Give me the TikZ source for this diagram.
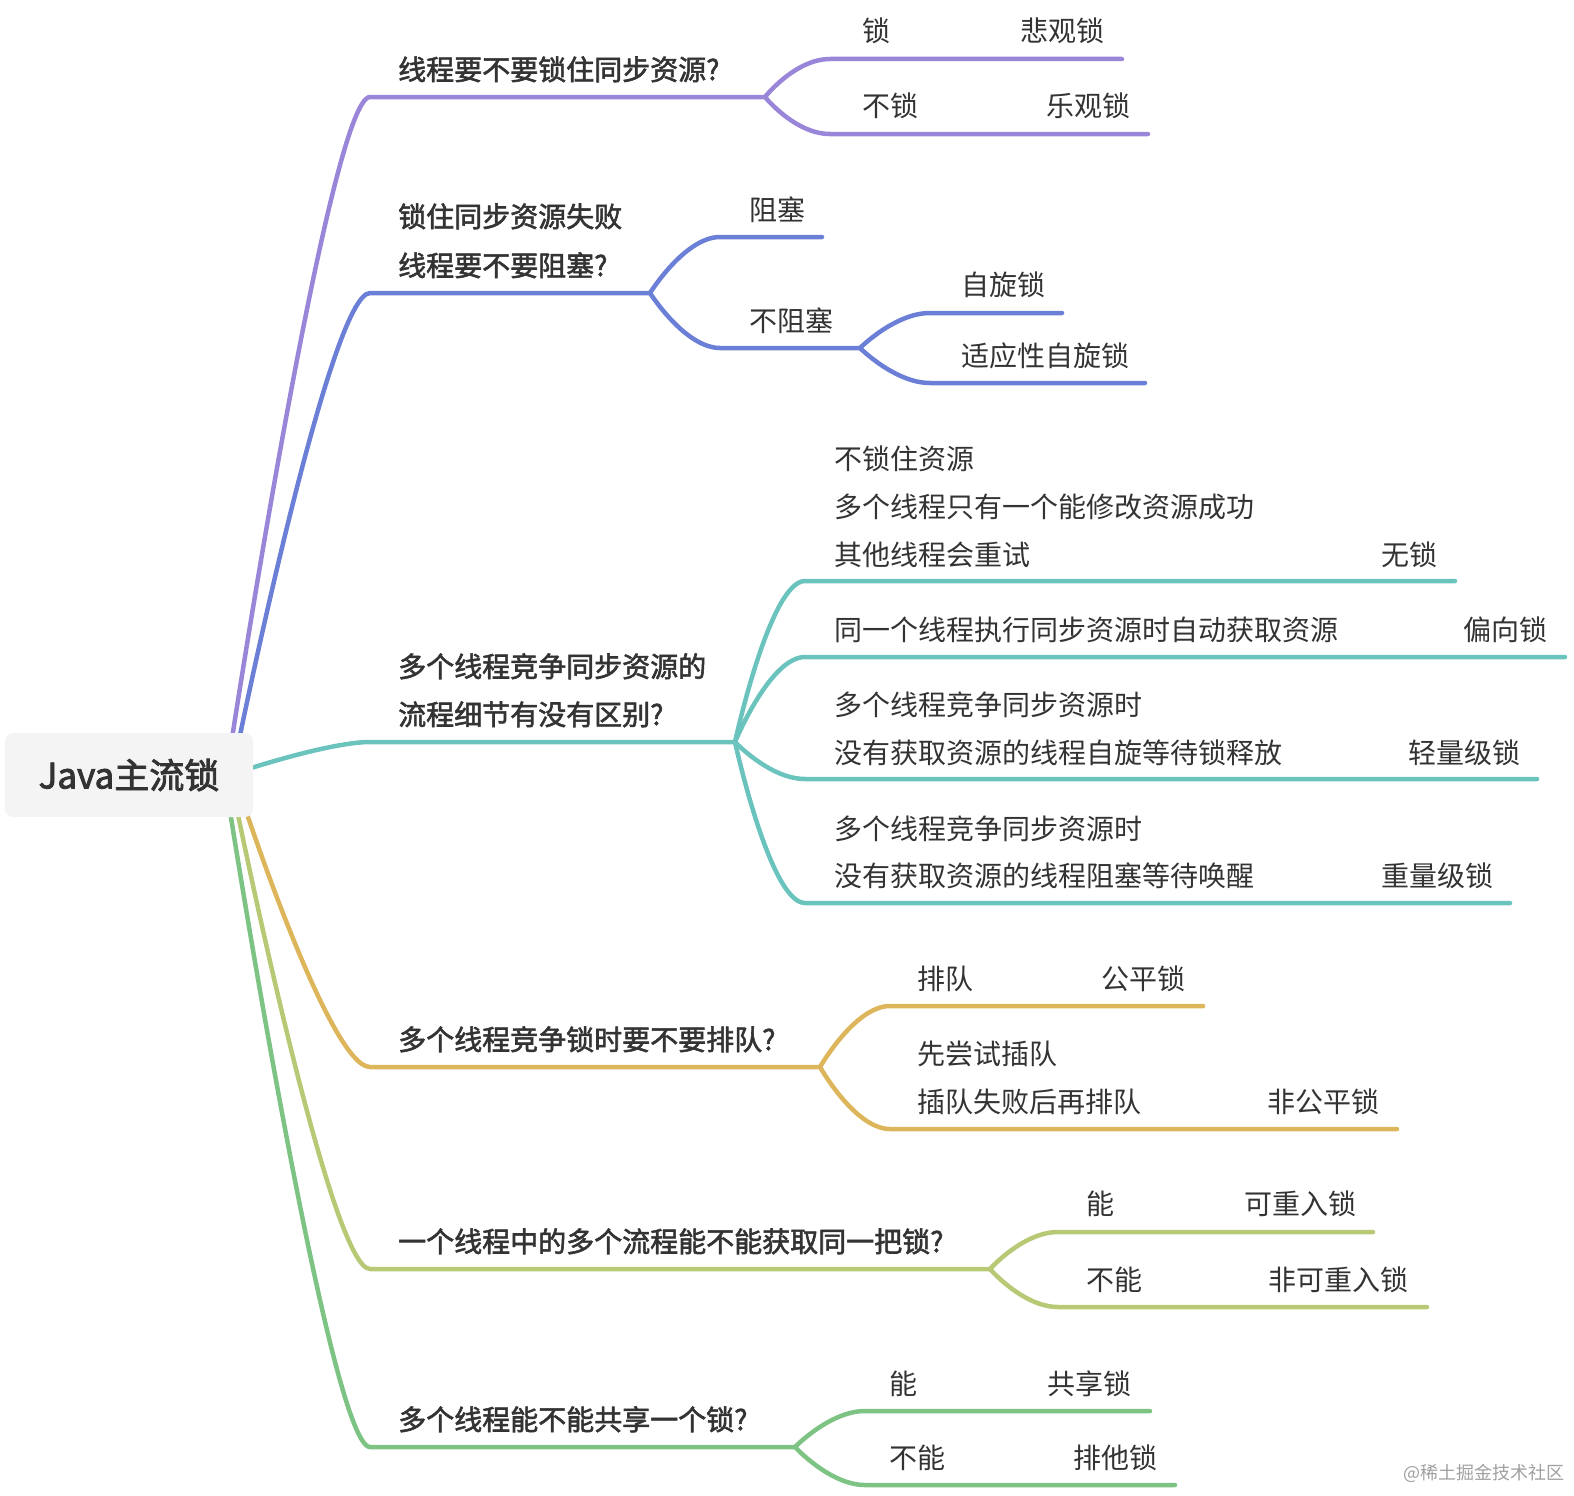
\documentclass[tikz,border=0pt]{standalone}
\usepackage{fontspec}
\setmainfont{Noto Sans CJK SC}
\newfontfamily\medfont{Noto Sans CJK SC}[FakeBold=2]
\newfontfamily\rootfont{Noto Sans CJK SC}[FakeBold=2.5]
\definecolor{cPur}{HTML}{9A86D9}
\definecolor{cBlu}{HTML}{6B7FD7}
\definecolor{cTea}{HTML}{6BC3BE}
\definecolor{cYel}{HTML}{DDB55A}
\definecolor{cLim}{HTML}{B8C975}
\definecolor{cGrn}{HTML}{7DC383}
\definecolor{txt}{HTML}{333333}
\definecolor{rootbg}{HTML}{F4F4F4}
\definecolor{wm}{HTML}{A0A0A0}
\tikzset{
  lbl/.style={anchor=base west, inner sep=0pt, text=txt, font=\fontsize{28}{28}\selectfont},
  lone/.style={anchor=base west, inner sep=0pt, text=txt, font=\medfont\fontsize{28}{28}\selectfont},
  conn/.style={line width=4.5pt, line cap=round, line join=round},
  rootbox/.style={fill=rootbg, rounded corners=8pt, minimum width=248pt, minimum height=84pt, inner sep=0pt, text=txt, font=\rootfont\fontsize{35}{35}\selectfont},
}
\begin{document}
\begin{tikzpicture}[x=1pt, y=-1pt]
\useasboundingbox (0,0) rectangle (1574,1496);
% ---------- coordinates ----------
% branch 1
\coordinate (r1) at (231,745); \coordinate (h1) at (370,97); \coordinate (f1) at (765,97);
\coordinate (a1s) at (830,59); \coordinate (a1e) at (1122,59);
\coordinate (b1s) at (830,134); \coordinate (b1e) at (1148,134);
% branch 2
\coordinate (r2) at (238,745); \coordinate (h2) at (370,293); \coordinate (f2) at (650,293);
\coordinate (a2s) at (720,237); \coordinate (a2e) at (822,237);
\coordinate (b2s) at (720,348); \coordinate (f2b) at (860,348);
\coordinate (c2s) at (930,313); \coordinate (c2e) at (1062,313);
\coordinate (d2s) at (930,383); \coordinate (d2e) at (1145,383);
% branch 3
\coordinate (r3) at (245,770); \coordinate (h3) at (370,742); \coordinate (f3) at (735,742);
\coordinate (a3s) at (805,581); \coordinate (a3e) at (1455,581);
\coordinate (b3s) at (805,657); \coordinate (b3e) at (1565,657);
\coordinate (c3s) at (805,779); \coordinate (c3e) at (1537,779);
\coordinate (d3s) at (805,903); \coordinate (d3e) at (1510,903);
% branch 4
\coordinate (r4) at (244,805); \coordinate (h4) at (370,1067); \coordinate (f4) at (820,1067);
\coordinate (a4s) at (890,1006); \coordinate (a4e) at (1203,1006);
\coordinate (b4s) at (890,1129); \coordinate (b4e) at (1397,1129);
% branch 5
\coordinate (r5) at (236,805); \coordinate (h5) at (370,1269); \coordinate (f5) at (990,1269);
\coordinate (a5s) at (1058,1232); \coordinate (a5e) at (1373,1232);
\coordinate (b5s) at (1058,1307); \coordinate (b5e) at (1427,1307);
% branch 6
\coordinate (r6) at (229,805); \coordinate (h6) at (370,1447); \coordinate (f6) at (795,1447);
\coordinate (a6s) at (865,1411); \coordinate (a6e) at (1150,1411);
\coordinate (b6s) at (865,1485); \coordinate (b6e) at (1175,1485);

% ---------- connectors ----------
\draw[conn,cPur] (r1) .. controls (r1) and +(-40,0) .. (h1) -- (f1);
\draw[conn,cPur] (f1) .. controls (f1) and +(-35,0) .. (a1s) -- (a1e);
\draw[conn,cPur] (f1) .. controls (f1) and +(-35,0) .. (b1s) -- (b1e);

\draw[conn,cBlu] (r2) .. controls (r2) and +(-40,0) .. (h2) -- (f2);
\draw[conn,cBlu] (f2) .. controls (f2) and +(-35,0) .. (a2s) -- (a2e);
\draw[conn,cBlu] (f2) .. controls (f2) and +(-35,0) .. (b2s) -- (f2b);
\draw[conn,cBlu] (f2b) .. controls (f2b) and +(-35,0) .. (c2s) -- (c2e);
\draw[conn,cBlu] (f2b) .. controls (f2b) and +(-35,0) .. (d2s) -- (d2e);

\draw[conn,cTea] (r3) .. controls (r3) and +(-40,0) .. (h3) -- (f3);
\draw[conn,cTea] (f3) .. controls (f3) and +(-35,0) .. (a3s) -- (a3e);
\draw[conn,cTea] (f3) .. controls (f3) and +(-35,0) .. (b3s) -- (b3e);
\draw[conn,cTea] (f3) .. controls (f3) and +(-35,0) .. (c3s) -- (c3e);
\draw[conn,cTea] (f3) .. controls (f3) and +(-35,0) .. (d3s) -- (d3e);

\draw[conn,cYel] (r4) .. controls (r4) and +(-40,0) .. (h4) -- (f4);
\draw[conn,cYel] (f4) .. controls (f4) and +(-35,0) .. (a4s) -- (a4e);
\draw[conn,cYel] (f4) .. controls (f4) and +(-35,0) .. (b4s) -- (b4e);

\draw[conn,cLim] (r5) .. controls (r5) and +(-40,0) .. (h5) -- (f5);
\draw[conn,cLim] (f5) .. controls (f5) and +(-35,0) .. (a5s) -- (a5e);
\draw[conn,cLim] (f5) .. controls (f5) and +(-35,0) .. (b5s) -- (b5e);

\draw[conn,cGrn] (r6) .. controls (r6) and +(-40,0) .. (h6) -- (f6);
\draw[conn,cGrn] (f6) .. controls (f6) and +(-35,0) .. (a6s) -- (a6e);
\draw[conn,cGrn] (f6) .. controls (f6) and +(-35,0) .. (b6s) -- (b6e);

% ---------- root ----------
\node[rootbox] (root) at (129,775) {Java主流锁};

% ---------- level 1 ----------
\node[lone] (q1) at (398,80) {线程要不要锁住同步资源?};
\node[lone] (q2a) at (398,227) {锁住同步资源失败};
\node[lone] (q2b) at (398,276) {线程要不要阻塞?};
\node[lone] (q3a) at (398,677) {多个线程竞争同步资源的};
\node[lone] (q3b) at (398,725) {流程细节有没有区别?};
\node[lone] (q4) at (398,1050) {多个线程竞争锁时要不要排队?};
\node[lone] (q5) at (398,1252) {一个线程中的多个流程能不能获取同一把锁?};
\node[lone] (q6) at (398,1430) {多个线程能不能共享一个锁?};

% ---------- leaves ----------
\node[lbl] (n11) at (862,42) {锁};
\node[lbl] (n12) at (1020,42) {悲观锁};
\node[lbl] (n13) at (862,116) {不锁};
\node[lbl] (n14) at (1046,116) {乐观锁};

\node[lbl] (n21) at (749,220) {阻塞};
\node[lbl] (n22) at (749,331) {不阻塞};
\node[lbl] (n23) at (961,295) {自旋锁};
\node[lbl] (n24) at (961,366) {适应性自旋锁};

\node[lbl] (n31) at (834,469) {不锁住资源};
\node[lbl] (n32) at (834,517) {多个线程只有一个能修改资源成功};
\node[lbl] (n33) at (834,565) {其他线程会重试};
\node[lbl] (n34) at (1381,565) {无锁};
\node[lbl] (n35) at (834,640) {同一个线程执行同步资源时自动获取资源};
\node[lbl] (n36) at (1463,640) {偏向锁};
\node[lbl] (n37) at (834,715) {多个线程竞争同步资源时};
\node[lbl] (n38) at (834,763) {没有获取资源的线程自旋等待锁释放};
\node[lbl] (n39) at (1408,763) {轻量级锁};
\node[lbl] (n3a) at (834,839) {多个线程竞争同步资源时};
\node[lbl] (n3b) at (834,886) {没有获取资源的线程阻塞等待唤醒};
\node[lbl] (n3c) at (1381,886) {重量级锁};

\node[lbl] (n41) at (917,989) {排队};
\node[lbl] (n42) at (1101,989) {公平锁};
\node[lbl] (n43) at (917,1064) {先尝试插队};
\node[lbl] (n44) at (917,1112) {插队失败后再排队};
\node[lbl] (n45) at (1267,1112) {非公平锁};

\node[lbl] (n51) at (1086,1214) {能};
\node[lbl] (n52) at (1244,1214) {可重入锁};
\node[lbl] (n53) at (1086,1290) {不能};
\node[lbl] (n54) at (1268,1290) {非可重入锁};

\node[lbl] (n61) at (889,1394) {能};
\node[lbl] (n62) at (1047,1394) {共享锁};
\node[lbl] (n63) at (889,1468) {不能};
\node[lbl] (n64) at (1073,1468) {排他锁};

% ---------- watermark ----------
\node[inner sep=0pt, text=wm, font=\fontsize{18}{18}\selectfont] (wmk) at (1484,1473) {@稀土掘金技术社区};
\end{tikzpicture}
\end{document}
